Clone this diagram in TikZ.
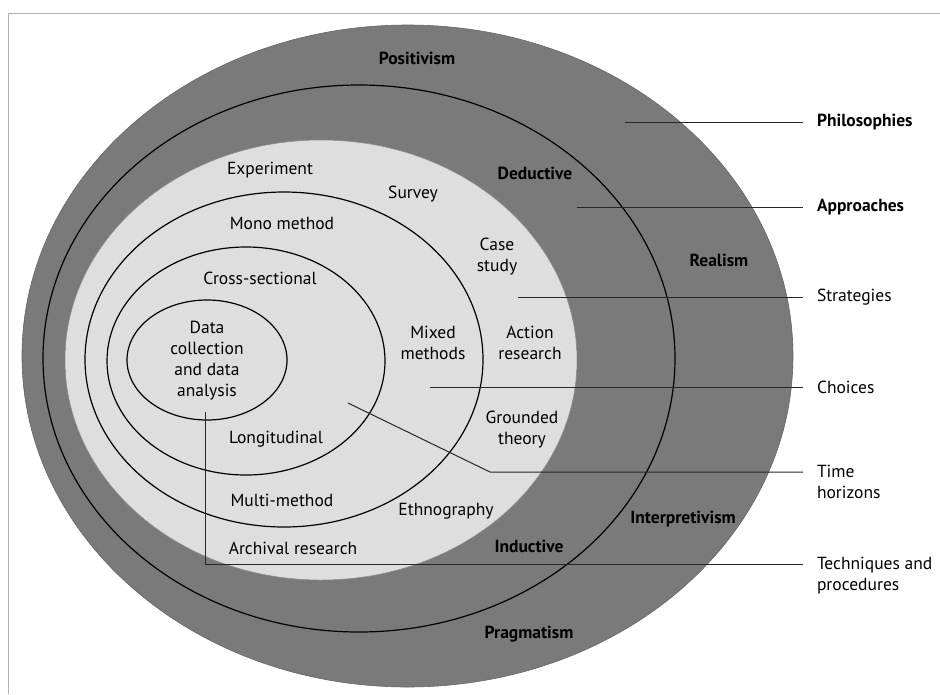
\documentclass[tikz,border=0pt]{standalone}
\usepackage{fontspec}
\setmainfont{PT Sans}
\definecolor{darkg}{RGB}{122,122,122}
\definecolor{lightg}{RGB}{222,222,222}
\begin{document}
\begin{tikzpicture}[x=1pt,y=-1pt,
  lab/.style={font=\fontsize{17.5}{21}\selectfont, inner sep=0pt, align=center},
  blab/.style={lab, font=\fontsize{17.5}{21}\selectfont\bfseries},
  side/.style={lab, anchor=west, align=left, outer xsep=14pt},
  bside/.style={side, font=\fontsize{17.5}{21}\selectfont\bfseries},
  ring/.style={draw=black, line width=1.2pt},
  conn/.style={draw=black!85, line width=1pt}]
\useasboundingbox (0,0) rectangle (940,694);
% frame
\draw[gray!60, line width=0.6pt] (8,694) -- (8,13) -- (940,13);
% onion layers
\filldraw[fill=darkg, draw=black!60, line width=0.6pt] (407.5,356) ellipse [x radius=385.5pt, y radius=331pt];
\draw[ring] (359,358.5) ellipse [x radius=316pt, y radius=273.5pt];
\filldraw[fill=lightg, draw=black!45, line width=0.5pt] (321,360) ellipse [x radius=256pt, y radius=220pt];
\draw[ring] (284,359.5) ellipse [x radius=199pt, y radius=167.5pt];
\draw[ring] (246,361) ellipse [x radius=139pt, y radius=114pt];
\draw[ring] (207,360) ellipse [x radius=80pt, y radius=60pt];
% layer labels
\node[blab] (positivism) at (417,58) {Positivism};
\node[blab] (deductive) at (535,173) {Deductive};
\node[blab] (realism) at (719,260) {Realism};
\node[blab] (interpretivism) at (683,519) {Interpretivism};
\node[blab] (inductive) at (529,546) {Inductive};
\node[blab] (pragmatism) at (529,634) {Pragmatism};
\node[lab] (experiment) at (270,170) {Experiment};
\node[lab] (survey) at (413,194) {Survey};
\node[lab] (mono) at (282,223) {Mono method};
\node[lab] (casestudy) at (497,257) {Case\\study};
\node[lab] (cross) at (260,278) {Cross-sectional};
\node[lab] (datacoll) at (207,361) {Data\\collection\\and data\\analysis};
\node[lab] (mixed) at (433,343) {Mixed\\methods};
\node[lab] (action) at (530,343) {Action\\research};
\node[lab] (grounded) at (522,430) {Grounded\\theory};
\node[lab] (longitudinal) at (276,439) {Longitudinal};
\node[lab] (multi) at (282,500) {Multi-method};
\node[lab] (ethno) at (446,511) {Ethnography};
\node[lab] (archival) at (293,548) {Archival research};
% side labels
\node[bside] (philo) at (803,122) {Philosophies};
\node[bside] (appr) at (803,207) {Approaches};
\node[side] (strat) at (803,297) {Strategies};
\node[side] (choices) at (803,387) {Choices};
\node[side, anchor=north west] (time) at (803,465) {Time\\horizons};
\node[side, anchor=north west] (tech) at (803,557) {Techniques and\\procedures};
% connectors
\coordinate (cPhil) at (625,122);
\coordinate (cAppr) at (577,207);
\coordinate (cStrat) at (518,297);
\coordinate (cChoice) at (430,387);
\coordinate (tA) at (348,403);
\coordinate (tB) at (490,472);
\coordinate (qA) at (205,412);
\coordinate (qB) at (205,564);
\draw[conn] (cPhil) -- (philo.west);
\draw[conn] (cAppr) -- (appr.west);
\draw[conn] (cStrat) -- (strat.west);
\draw[conn] (cChoice) -- (choices.west);
\draw[conn] (tA) -- (tB) -- (tB -| time.west);
\draw[conn] (qA) -- (qB) -- (qB -| tech.west);
\end{tikzpicture}
\end{document}
